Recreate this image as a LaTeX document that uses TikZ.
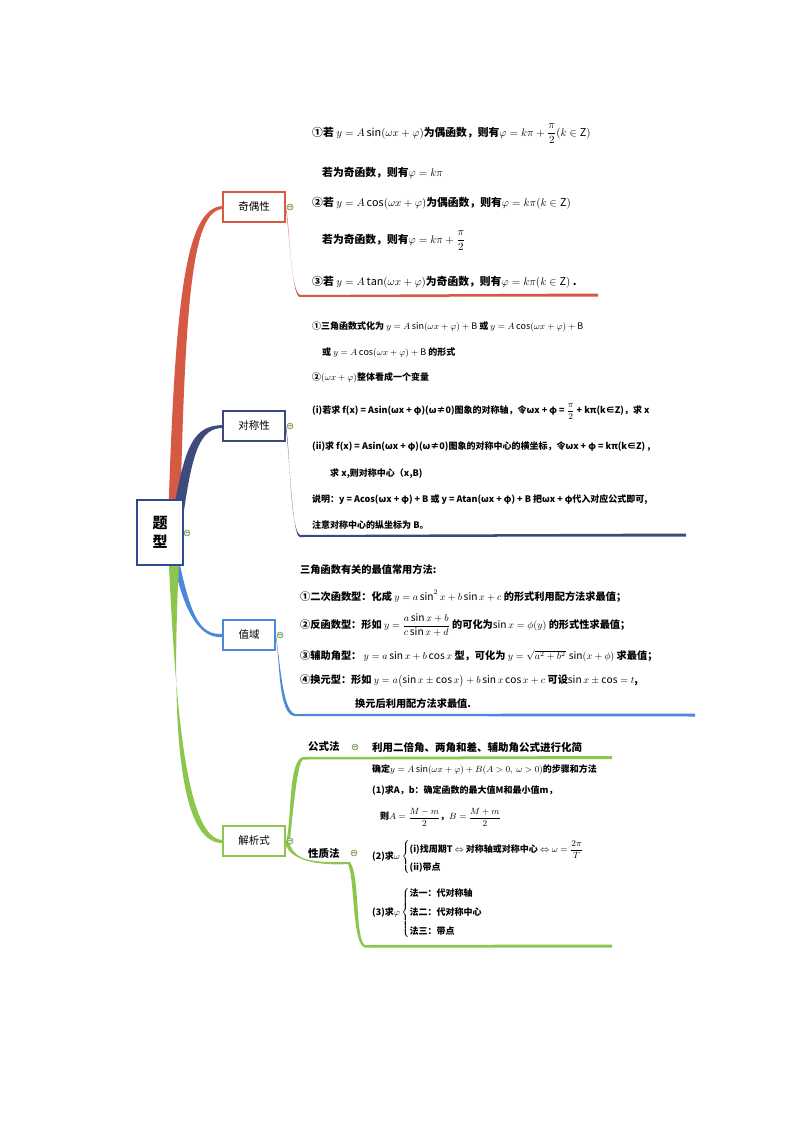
\documentclass[tikz,border=0pt]{standalone}
\usepackage{amsmath,amssymb}
\usepackage{fontspec}
\setmainfont{Noto Sans CJK SC}
\usetikzlibrary{calc}
\definecolor{cred}{HTML}{D65A43}
\definecolor{cnavy}{HTML}{3F4A7C}
\definecolor{cblue}{HTML}{4B88DA}
\definecolor{cgreen}{HTML}{8DC64E}
\definecolor{croot}{HTML}{2E4B8F}
\tikzset{x=1pt,y=-1pt,
 box/.style={draw=#1,line width=1.6pt,fill=white,minimum height=30pt,inner sep=3pt,font=\fontsize{10.5}{12}\selectfont},
 txt/.style={anchor=west,inner sep=0pt,font=\fontsize{#1}{#1}\selectfont\bfseries},
 txt/.default=9.5,
 col/.style={circle,draw=cgreen!70!black,fill=cgreen!30,inner sep=0pt,minimum size=6pt,line width=0.5pt,
   label={[inner sep=0pt,font=\fontsize{6}{6}\selectfont]center:$-$}}}
\begin{document}
\begin{tikzpicture}
\useasboundingbox (0,0) rectangle (794,1123);
% tapered branches
\fill[cred] (168,525) .. controls (175,300) and (185,207) .. (223,206) -- (223,209) .. controls (192,210) and (185,300) .. (180,525) -- cycle;
\fill[cnavy] (172,520) .. controls (185,440) and (195,426) .. (223,425) -- (223,428) .. controls (200,428) and (192,450) .. (182,525) -- cycle;
\fill[cblue] (175,540) .. controls (190,620) and (200,635) .. (223,634) -- (223,637) .. controls (195,640) and (180,600) .. (170,545) -- cycle;
\fill[cgreen] (168,545) .. controls (175,700) and (185,840) .. (223,840) -- (223,843) .. controls (178,845) and (170,720) .. (180,545) -- cycle;
% brackets
\fill[cred] (286,207) .. controls (290,230) and (290,290) .. (300,295) -- (598,293.5) -- (598,296.5) -- (300,297) .. controls (292,297) and (290,240) .. (286,210) -- cycle;
\fill[cnavy] (286,426) .. controls (290,450) and (290,530) .. (300,535) -- (686,533.5) -- (686,536.5) -- (300,537) .. controls (292,537) and (290,460) .. (286,429) -- cycle;
\fill[cblue] (276,635) .. controls (280,660) and (282,710) .. (295,714) -- (695,713.5) -- (695,716.5) -- (295,716) .. controls (278,716) and (280,660) .. (276,638) -- cycle;
\fill[cgreen] (286,842) .. controls (292,820) and (288,760) .. (303,757) -- (612,756) -- (612,759) -- (303,759.5) .. controls (298,762) and (294,800) .. (290,840) -- (290,845) .. controls (296,860) and (310,863) .. (350,862) -- (350,864) .. controls (310,866) and (292,858) .. (286,846) -- cycle;
\fill[cgreen] (350,862) .. controls (360,875) and (355,940) .. (365,945) -- (612,944.5) -- (612,947.5) -- (365,947.5) .. controls (352,945) and (355,880) .. (348,864) -- cycle;
% nodes
\node[draw=croot,line width=2pt,fill=white,minimum width=46pt,minimum height=65pt,align=center,font=\fontsize{15}{19}\selectfont\bfseries] (root) at (160,532) {题\\型};
\node[box=cred,minimum width=62pt] (q) at (254,207) {奇偶性};
\node[box=cnavy,minimum width=62pt] (d) at (254,426) {对称性};
\node[box=cblue,minimum width=52pt] (z) at (249,635) {值域};
\node[box=cgreen,minimum width=62pt] (j) at (254,841) {解析式};
\node[col] (c0) at (187,533) {};
\node[col] (c1) at (290,207) {};
\node[col] (c2) at (290,426) {};
\node[col] (c3) at (280,635) {};
\node[col] (c4) at (290,841) {};
% section 1
\node[txt=10.8] (a1) at (312,134) {①若 $y=A\sin(\omega x+\varphi)$为偶函数，则有$\varphi=k\pi+\dfrac{\pi}{2}(k\in\mathrm{Z})$};
\node[txt=10.8] (a2) at (322,173) {若为奇函数，则有$\varphi=k\pi$};
\node[txt=10.8] (a3) at (312,203) {②若 $y=A\cos(\omega x+\varphi)$为偶函数，则有$\varphi=k\pi(k\in\mathrm{Z})$};
\node[txt=10.8] (a4) at (322,241) {若为奇函数，则有$\varphi=k\pi+\dfrac{\pi}{2}$};
\node[txt=10.8] (a5) at (312,282) {③若 $y=A\tan(\omega x+\varphi)$为奇函数，则有$\varphi=k\pi(k\in\mathrm{Z})$ .};
% section 2
\node[txt=9] (b1) at (312,327) {①三角函数式化为 $y=A\sin(\omega x+\varphi)+\mathrm{B}$ 或 $y=A\cos(\omega x+\varphi)+\mathrm{B}$};
\node[txt=9] (b2) at (322,353) {或 $y=A\cos(\omega x+\varphi)+\mathrm{B}$ 的形式};
\node[txt=9] (b3) at (312,378) {②$(\omega x+\varphi)$整体看成一个变量};
\node[txt=9] (b4) at (312,412) {(i)若求 f(x) = Asin(ωx + φ)(ω≠0)图象的对称轴，令ωx + φ = $\dfrac{\pi}{2}$ + kπ(k∈Z)，求 x};
\node[txt=9] (b5) at (312,447) {(ii)求 f(x) = Asin(ωx + φ)(ω≠0)图象的对称中心的横坐标，令ωx + φ = kπ(k∈Z) ,};
\node[txt=9] (b6) at (330,474) {求 x,则对称中心（x,B)};
\node[txt=9] (b7) at (312,500) {说明：y = Acos(ωx + φ) + B 或 y = Atan(ωx + φ) + B 把ωx + φ代入对应公式即可,};
\node[txt=9] (b8) at (312,525) {注意对称中心的纵坐标为 B。};
% section 3
\node[txt=10.2] (v1) at (300,570) {三角函数有关的最值常用方法:};
\node[txt=10.2] (v2) at (300,596) {①二次函数型：化成 $y=a\sin^2 x+b\sin x+c$ 的形式利用配方法求最值；};
\node[txt=10.2] (v3) at (300,625) {②反函数型：形如 $y=\dfrac{a\sin x+b}{c\sin x+d}$ 的可化为$\sin x=\phi(y)$ 的形式性求最值；};
\node[txt=10.2] (v4) at (300,656) {③辅助角型： $y=a\sin x+b\cos x$ 型，可化为 $y=\sqrt{a^2+b^2}\,\sin(x+\phi)$ 求最值；};
\node[txt=10.2] (v5) at (300,681) {④换元型：形如 $y=a\bigl(\sin x\pm\cos x\bigr)+b\sin x\cos x+c$ 可设$\sin x\pm\cos=t$,};
\node[txt=10.2] (v6) at (355,704) {换元后利用配方法求最值.};
% section 4
\node[txt=10.5] (g0) at (308,747) {公式法};
\node[col] (c5) at (355,747) {};
\node[txt=10.5] (g1) at (372,747) {利用二倍角、两角和差、辅助角公式进行化简};
\node[txt=10.5] (p0) at (308,853) {性质法};
\node[col] (c6) at (354,853) {};
\node[txt=9] (h1) at (372,770) {确定$y=A\sin(\omega x+\varphi)+B(A>0,\ \omega>0)$的步骤和方法};
\node[txt=9] (h2) at (372,791) {(1)求A，b：确定函数的最大值M和最小值m，};
\node[txt=9] (h3) at (380,817) {则$A=\dfrac{M-m}{2}$，$B=\dfrac{M+m}{2}$};
\node[txt=9] (h4) at (372,857) {(2)求$\omega\left\{\begin{array}{@{}l@{}}\text{(i)找周期T $\Leftrightarrow$ 对称轴或对称中心 $\Leftrightarrow\omega=\dfrac{2\pi}{T}$}\\[8pt]\text{(ii)带点}\end{array}\right.$};
\node[txt=9] (h5) at (372,913) {(3)求$\varphi\left\{\begin{array}{@{}l@{}}\text{法一：代对称轴}\\[9pt]\text{法二：代对称中心}\\[9pt]\text{法三：带点}\end{array}\right.$};
\end{tikzpicture}
\end{document}
